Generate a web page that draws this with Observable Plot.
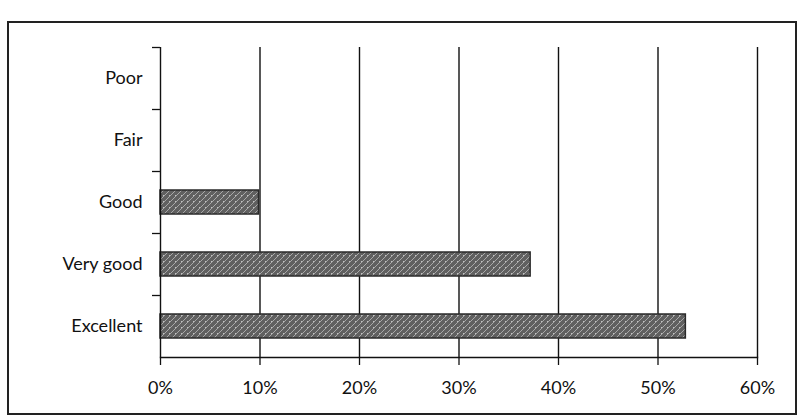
<!DOCTYPE html>
<html><head><meta charset="utf-8">
<script src="https://cdn.jsdelivr.net/npm/d3@7"></script>
<script src="https://cdn.jsdelivr.net/npm/@observablehq/plot@0.6"></script>
<style>
html,body{margin:0;padding:0;background:#fff;}
#chart{position:relative;width:798px;height:419px;}
</style>
</head><body><div id="chart"></div>
<script>
const categories = ["Poor", "Fair", "Good", "Very good", "Excellent"];
const values = [0, 0, 0.099, 0.372, 0.528];
const xTicks = [0, 0.1, 0.2, 0.3, 0.4, 0.5, 0.6];
const gridTicks = [0.1, 0.2, 0.3, 0.4, 0.5, 0.6];

const data = categories.map((c, i) => ({category: c, value: values[i]}));

const chart = Plot.plot({
  width: 798,
  height: 419,
  marginLeft: 160,
  marginRight: 41,
  marginTop: 47,
  marginBottom: 62,
  style: {fontFamily: "Lato, sans-serif", fontSize: "18px", color: "#111", background: "#fff"},
  x: {domain: [0, 0.6], ticks: xTicks},
  y: {domain: categories, padding: 0},
  marks: [
    Plot.ruleX(gridTicks, {stroke: "#111", strokeWidth: 1.4}),
    Plot.barX(data.filter(d => d.value > 0), {x: "value", y: "category", fill: "url(#tex)", stroke: "#2a2a2a", strokeWidth: 1.5, insetTop: 19, insetBottom: 19}),
    Plot.ruleY(categories, {y: d => d, x1: 0, x2: 0.008, dx: -8, dy: -31, stroke: "#111", strokeWidth: 1.3}),
    Plot.ruleX([0], {stroke: "#111", strokeWidth: 1.4}),
    Plot.frame({anchor: "bottom", stroke: "#111", strokeWidth: 1.4}),
    Plot.axisX({ticks: xTicks, tickFormat: d => Math.round(d * 100) + "%", tickSize: 8, tickPadding: 16, label: null, stroke: "#111", strokeWidth: 1.3}),
    Plot.axisY({tickSize: 0, tickPadding: 18, label: null})
  ]
});

const svg = d3.select(chart);
const defs = svg.insert("defs", ":first-child");
const pat = defs.append("pattern").attr("id", "tex").attr("patternUnits", "userSpaceOnUse").attr("width", 6).attr("height", 6);
pat.append("rect").attr("width", 6).attr("height", 6).attr("fill", "#606060");
pat.append("path").attr("d", "M0,6 L6,0 M-1,1 L1,-1 M5,7 L7,5").attr("stroke", "#a8a8a8").attr("stroke-width", 1);
pat.append("rect").attr("x", 1).attr("y", 3).attr("width", 1).attr("height", 1).attr("fill", "#c0c0c0");
svg.append("rect").attr("x", 8).attr("y", 22).attr("width", 788).attr("height", 392)
  .attr("fill", "none").attr("stroke", "#222").attr("stroke-width", 2);

document.getElementById("chart").appendChild(chart);
</script>
</body></html>
